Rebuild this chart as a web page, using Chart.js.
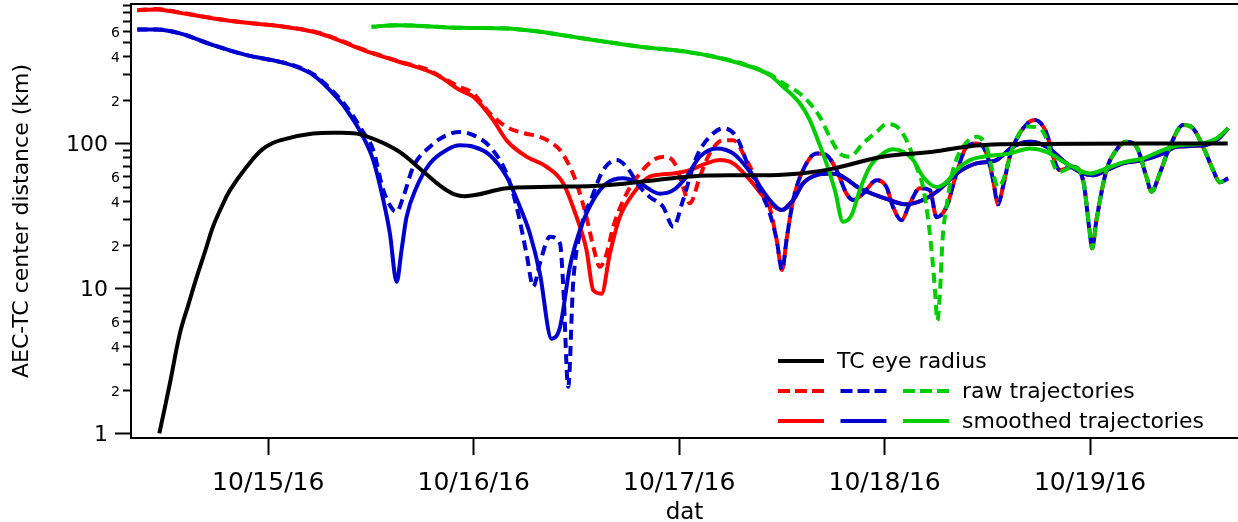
<!DOCTYPE html>
<html>
<head>
<meta charset="utf-8">
<title>AEC-TC center distance</title>
<script src="https://cdn.jsdelivr.net/npm/chart.js@4.4.1/dist/chart.umd.min.js"></script>
<style>
  body { margin: 0; background: #fff; }
  canvas { display: block; }
</style>
</head>
<body>
<canvas id="chart" width="1238" height="522"></canvas>
<script>
// x values are days of October 2016 (15 = 10/15/16 00:00), y values in km
const dayTicks = [15, 16, 17, 18, 19];
const dayLabels = ['10/15/16', '10/16/16', '10/17/16', '10/18/16', '10/19/16'];
const kmTicks = [1, 2, 3, 4, 5, 6, 7, 8, 9, 10, 20, 30, 40, 50, 60, 70, 80, 90, 100, 200, 300, 400, 500, 600, 700, 800, 900];
const kmLabels = ['1', '2', '', '4', '', '6', '', '', '', '10', '2', '', '4', '', '6', '', '', '', '100', '2', '', '4', '', '6', '', '', ''];
const kmMajor = [1, 10, 100];

const eyeRadius = [
  [14.470, 1.0], [14.521, 2.2], [14.570, 4.9], [14.611, 7.7], [14.652, 12], [14.692, 17.9],
  [14.731, 26.6], [14.773, 36.5], [14.814, 47.6], [14.895, 69], [14.976, 92], [15.057, 105],
  [15.218, 117], [15.382, 118], [15.462, 114], [15.625, 90], [15.754, 64], [15.868, 47.6],
  [15.957, 43.3], [16.160, 49], [16.322, 50], [16.647, 51.5], [16.969, 57.6], [17.133, 60],
  [17.441, 60.4], [17.587, 62], [17.748, 67], [17.991, 81], [18.234, 87.5], [18.398, 95],
  [18.562, 98.5], [19.670, 100]
];

const redSmooth = [
  [14.363, 830], [14.457, 840], [14.570, 795], [14.732, 728], [14.895, 679], [15.057, 644],
  [15.219, 589], [15.300, 543], [15.462, 440], [15.625, 370], [15.787, 312], [15.836, 288],
  [15.933, 233], [15.998, 210], [16.095, 145], [16.160, 105], [16.257, 81], [16.355, 69],
  [16.436, 53], [16.501, 31], [16.549, 18.4], [16.582, 9.7], [16.622, 9.2], [16.663, 17.4],
  [16.711, 31], [16.776, 45], [16.857, 59], [16.971, 62], [17.052, 65.5], [17.133, 72.8],
  [17.198, 76.7], [17.263, 72.8], [17.344, 56], [17.441, 38.6], [17.498, 34.7], [17.555, 40.7],
  [17.603, 53], [17.669, 60.4], [17.733, 62], [17.782, 60.4], [17.879, 49], [18.025, 40.7],
  [18.107, 38], [18.187, 40.7], [18.253, 46.4], [18.350, 62], [18.447, 72.8], [18.544, 76.7],
  [18.624, 94.8], [18.707, 102.6], [18.788, 94.8], [18.885, 72.8], [18.950, 63.7], [19.015, 60.4],
  [19.080, 65.5], [19.161, 72.8], [19.258, 76.7], [19.355, 85.3], [19.420, 94.8], [19.550, 97],
  [19.615, 105], [19.672, 127]
];

const redRaw = [
  [14.363, 830], [14.457, 845], [14.570, 800], [14.732, 730], [14.895, 680], [15.057, 645],
  [15.219, 592], [15.300, 548], [15.462, 445], [15.625, 372], [15.787, 318], [15.836, 290],
  [15.933, 245], [15.998, 221], [16.079, 161], [16.160, 130], [16.241, 118], [16.322, 111],
  [16.371, 102.6], [16.420, 90], [16.468, 69], [16.501, 53], [16.549, 31], [16.582, 19.4],
  [16.614, 14.1], [16.647, 17.4], [16.679, 26.6], [16.744, 45], [16.809, 62], [16.873, 76.7],
  [16.939, 81], [16.987, 69], [17.019, 50], [17.052, 38.6], [17.101, 59], [17.149, 85.3],
  [17.214, 105], [17.263, 105], [17.328, 76.7], [17.393, 50], [17.441, 36], [17.474, 21.8],
  [17.501, 13.4], [17.523, 21.8], [17.555, 40.7], [17.603, 65.5], [17.669, 85.3], [17.717, 83],
  [17.766, 65.5], [17.815, 45], [17.847, 40.7], [17.895, 45], [17.961, 55.8], [18.009, 50],
  [18.041, 36.5], [18.082, 29.6], [18.123, 38.6], [18.171, 49], [18.220, 47.6], [18.253, 31],
  [18.301, 36.5], [18.350, 62], [18.399, 94.8], [18.447, 100], [18.496, 85.3], [18.528, 55.8],
  [18.552, 38], [18.576, 50], [18.609, 81], [18.674, 127], [18.731, 145], [18.788, 118],
  [18.820, 81], [18.852, 65.5], [18.917, 69], [18.966, 55.8], [18.999, 24], [19.010, 18.9],
  [19.031, 29.6], [19.080, 65.5], [19.128, 90], [19.177, 102.6], [19.226, 94.8], [19.274, 59],
  [19.299, 46.4], [19.339, 62], [19.388, 94.8], [19.453, 134], [19.501, 127], [19.550, 94.8],
  [19.599, 65.5], [19.631, 54], [19.672, 57.4]
];

const blueSmooth = [
  [14.363, 611], [14.457, 611], [14.570, 574], [14.732, 476], [14.895, 406], [15.057, 365],
  [15.138, 337], [15.219, 296], [15.300, 233], [15.382, 170], [15.462, 111], [15.511, 76.7],
  [15.560, 40.7], [15.592, 24], [15.625, 11.1], [15.649, 18.4], [15.673, 31], [15.722, 50],
  [15.787, 72.8], [15.868, 90], [15.933, 97], [15.998, 94.8], [16.079, 83], [16.160, 59],
  [16.225, 36.5], [16.273, 24], [16.322, 12.7], [16.379, 4.5], [16.420, 5.4], [16.468, 14.1],
  [16.517, 25.2], [16.582, 40.7], [16.647, 53], [16.727, 57.4], [16.809, 53], [16.906, 45],
  [16.971, 47.6], [17.036, 59], [17.101, 81], [17.182, 92.4], [17.263, 85.3], [17.344, 64],
  [17.441, 40.7], [17.498, 34.7], [17.555, 40.7], [17.603, 53], [17.669, 60.4], [17.733, 62],
  [17.782, 60.4], [17.879, 49], [18.025, 40.7], [18.107, 38], [18.187, 40.7], [18.253, 46.4],
  [18.350, 62], [18.447, 72.8], [18.544, 76.7], [18.624, 94.8], [18.707, 102.6], [18.788, 94.8],
  [18.885, 72.8], [18.950, 63.7], [19.015, 60.4], [19.080, 65.5], [19.161, 72.8], [19.258, 76.7],
  [19.355, 85.3], [19.420, 94.8], [19.550, 97], [19.615, 105], [19.672, 127]
];

const blueRaw = [
  [14.363, 611], [14.457, 611], [14.570, 574], [14.732, 476], [14.895, 406], [15.057, 365],
  [15.138, 340], [15.219, 300], [15.300, 240], [15.382, 178], [15.462, 120], [15.511, 90],
  [15.560, 47.6], [15.608, 34.7], [15.625, 33.8], [15.657, 42.7], [15.706, 69], [15.787, 94.8],
  [15.868, 114], [15.933, 120], [15.998, 114], [16.079, 94.8], [16.160, 62], [16.209, 36.5],
  [16.257, 17.4], [16.290, 10.3], [16.322, 14.9], [16.371, 22.7], [16.420, 20.4], [16.436, 10.3],
  [16.460, 2.1], [16.484, 10.8], [16.517, 24], [16.582, 45], [16.630, 65.5], [16.695, 76.7],
  [16.744, 69], [16.809, 50], [16.857, 42.7], [16.922, 36.5], [16.971, 26.6], [17.019, 40.7],
  [17.085, 81], [17.149, 111], [17.214, 127], [17.279, 111], [17.344, 65.5], [17.393, 47.6],
  [17.441, 32.9], [17.474, 21.8], [17.501, 13.4], [17.523, 21.8], [17.555, 40.7], [17.603, 65.5],
  [17.669, 85.3], [17.717, 83], [17.766, 65.5], [17.815, 45], [17.847, 40.7], [17.895, 45],
  [17.961, 55.8], [18.009, 50], [18.041, 36.5], [18.082, 29.6], [18.123, 38.6], [18.171, 49],
  [18.220, 47.6], [18.253, 31], [18.301, 36.5], [18.350, 62], [18.399, 94.8], [18.447, 100],
  [18.496, 85.3], [18.528, 55.8], [18.552, 38], [18.576, 50], [18.609, 81], [18.674, 127],
  [18.731, 145], [18.788, 118], [18.820, 81], [18.852, 65.5], [18.917, 69], [18.966, 55.8],
  [18.999, 24], [19.010, 18.9], [19.031, 29.6], [19.080, 65.5], [19.128, 90], [19.177, 102.6],
  [19.226, 94.8], [19.274, 59], [19.299, 46.4], [19.339, 62], [19.388, 94.8], [19.453, 134],
  [19.501, 127], [19.550, 94.8], [19.599, 65.5], [19.631, 54], [19.672, 57.4]
];

const greenSmooth = [
  [15.503, 637], [15.625, 654], [15.933, 627], [16.160, 621], [16.322, 589], [16.484, 543],
  [16.647, 501], [16.809, 464], [16.971, 440], [17.133, 406], [17.295, 356], [17.441, 296],
  [17.506, 246], [17.587, 189], [17.636, 145], [17.669, 111], [17.717, 72.8], [17.758, 47.6],
  [17.798, 28.8], [17.839, 32], [17.879, 47.6], [17.928, 69], [17.993, 85.3], [18.041, 91],
  [18.090, 87.5], [18.139, 76.7], [18.187, 59], [18.253, 50], [18.301, 54], [18.350, 65.5],
  [18.415, 76.7], [18.479, 81], [18.609, 85.3], [18.707, 92.4], [18.788, 87.5], [18.885, 72.8],
  [18.999, 62], [19.080, 67.3], [19.161, 74], [19.258, 78.7], [19.355, 90], [19.436, 97],
  [19.550, 100], [19.615, 108], [19.672, 127]
];

const greenRaw = [
  [15.503, 637], [15.625, 654], [15.933, 627], [16.160, 621], [16.322, 589], [16.484, 543],
  [16.647, 501], [16.809, 464], [16.971, 440], [17.133, 406], [17.295, 360], [17.441, 300],
  [17.506, 260], [17.587, 221], [17.636, 189], [17.684, 153], [17.733, 111], [17.782, 85.3],
  [17.830, 81], [17.895, 100], [17.961, 120], [18.009, 136], [18.058, 131], [18.107, 105],
  [18.155, 69], [18.187, 50], [18.220, 24], [18.244, 10.3], [18.257, 6.0], [18.269, 9.2],
  [18.282, 21.8], [18.301, 36.5], [18.333, 65.5], [18.382, 94.8], [18.447, 111], [18.496, 94.8],
  [18.528, 62], [18.552, 50], [18.577, 55.8], [18.625, 94.8], [18.690, 131], [18.755, 127],
  [18.796, 100], [18.820, 72.8], [18.852, 63.7], [18.917, 69], [18.966, 55.8], [18.999, 24],
  [19.010, 18.9], [19.031, 29.6], [19.080, 65.5], [19.128, 90], [19.177, 102.6], [19.226, 94.8],
  [19.274, 59], [19.299, 46.4], [19.339, 62], [19.388, 94.8], [19.453, 134], [19.501, 127],
  [19.550, 94.8], [19.599, 65.5], [19.631, 54], [19.672, 57.4]
];

const FONT = 'DejaVu Sans';
const RED = '#ff0000';
const BLUE = '#0000cc';
const GREEN = '#00cc00';
const DASH = [10, 6];

function series(data, color, dashed) {
  return {
    data: data,
    borderColor: color,
    borderWidth: 4,
    borderDash: dashed ? DASH : [],
    pointRadius: 0,
    fill: false,
    cubicInterpolationMode: 'monotone',
    borderJoinStyle: 'round'
  };
}

// y ticks with long/short marks and mixed label sizes, plus the top frame line
const yAxisMarks = {
  id: 'yAxisMarks',
  afterDraw(chart) {
    const { ctx, chartArea } = chart;
    const y = chart.scales.y;
    ctx.save();
    ctx.strokeStyle = '#000';
    ctx.fillStyle = '#000';
    ctx.lineWidth = 2;
    ctx.textAlign = 'right';
    ctx.textBaseline = 'alphabetic';
    kmTicks.forEach((v, i) => {
      const py = Math.round(y.getPixelForValue(v)) + 0.5;
      if (py < chartArea.top - 1) return;
      const major = kmMajor.includes(v);
      const len = major ? 16 : 8;
      ctx.beginPath();
      ctx.moveTo(chartArea.left, py);
      ctx.lineTo(chartArea.left - len, py);
      ctx.stroke();
      if (kmLabels[i]) {
        const size = major ? 22 : 14;
        ctx.font = size + 'px "' + FONT + '"';
        ctx.fillText(kmLabels[i], chartArea.left - (major ? 23 : 11), py + size * 0.36);
      }
    });
    ctx.beginPath();
    ctx.moveTo(chartArea.left, chartArea.top);
    ctx.lineTo(chartArea.right, chartArea.top);
    ctx.stroke();
    ctx.restore();
  }
};

// legend: one row for the eye radius, then three colour samples per trajectory kind
const sampleLegend = {
  id: 'sampleLegend',
  afterDraw(chart) {
    const ctx = chart.ctx;
    const rows = [
      { y: 361, textX: 837, text: 'TC eye radius', colors: ['#000'], dash: [] },
      { y: 391, textX: 962, text: 'raw trajectories', colors: [RED, BLUE, GREEN], dash: [12, 5] },
      { y: 421, textX: 962, text: 'smoothed trajectories', colors: [RED, BLUE, GREEN], dash: [] }
    ];
    ctx.save();
    ctx.lineWidth = 4;
    rows.forEach(row => {
      row.colors.forEach((c, k) => {
        const x0 = 778 + k * 62.5;
        ctx.strokeStyle = c;
        ctx.setLineDash(row.dash);
        ctx.beginPath();
        ctx.moveTo(x0, row.y);
        ctx.lineTo(x0 + 46, row.y);
        ctx.stroke();
      });
      ctx.setLineDash([]);
      ctx.fillStyle = '#000';
      ctx.font = '22px "' + FONT + '"';
      ctx.textAlign = 'left';
      ctx.textBaseline = 'alphabetic';
      ctx.fillText(row.text, row.textX, row.y + 7);
    });
    ctx.restore();
  }
};

const eyeSeries = series(eyeRadius, '#000', false);
eyeSeries.cubicInterpolationMode = 'default';
eyeSeries.tension = 0.4;

new Chart(document.getElementById('chart'), {
  type: 'line',
  data: {
    datasets: [
      eyeSeries,
      series(greenRaw, GREEN, true),
      series(greenSmooth, GREEN, false),
      series(blueRaw, BLUE, true),
      series(blueSmooth, BLUE, false),
      series(redRaw, RED, true),
      series(redSmooth, RED, false)
    ]
  },
  options: {
    responsive: false,
    animation: false,
    layout: { padding: { top: 4, right: 0, left: 0, bottom: 0 } },
    plugins: {
      legend: { display: false },
      tooltip: { enabled: false }
    },
    scales: {
      x: {
        type: 'linear',
        min: 14.332,
        max: 19.72,
        afterBuildTicks: s => { s.ticks = dayTicks.map(v => ({ value: v })); },
        afterFit: s => { s.height = 84; },
        ticks: {
          callback: v => dayLabels[dayTicks.indexOf(v)],
          color: '#000',
          font: { family: FONT, size: 25 },
          padding: 13,
          maxRotation: 0,
          autoSkip: false
        },
        grid: {
          drawOnChartArea: false,
          drawTicks: true,
          tickLength: 17,
          tickWidth: 2,
          tickColor: '#000'
        },
        border: { display: true, color: '#000', width: 2 },
        title: {
          display: true,
          text: 'dat',
          color: '#000',
          font: { family: FONT, size: 23, lineHeight: 1 },
          padding: { top: 0, bottom: -3 }
        }
      },
      y: {
        type: 'logarithmic',
        min: 0.93,
        max: 915,
        afterFit: s => { s.width = 131; },
        ticks: { display: false },
        grid: { display: false },
        border: { display: true, color: '#000', width: 2 },
        title: {
          display: true,
          text: 'AEC-TC center distance (km)',
          color: '#000',
          font: { family: FONT, size: 22 },
          padding: { top: 9, bottom: 0 }
        }
      }
    }
  },
  plugins: [yAxisMarks, sampleLegend]
});
</script>
</body>
</html>
